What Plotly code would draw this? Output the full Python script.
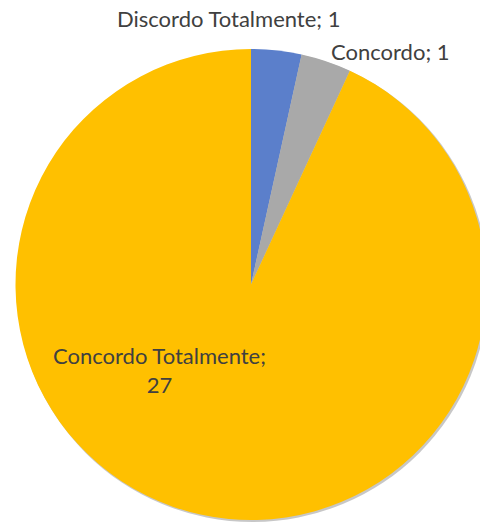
import plotly.graph_objects as go

categories = ["Discordo Totalmente", "Concordo", "Concordo Totalmente"]
values = [1, 1, 27]
colors = ["#5B7FCB", "#A9A9A9", "#FFC000"]

W, H = 502, 522


def dom(cx, cy, r):
    return dict(x=[(cx - r) / W, (cx + r) / W], y=[(H - cy - r) / H, (H - cy + r) / H])


fig = go.Figure()
# soft drop shadow (drawn first, beneath the pie)
fig.add_trace(go.Pie(
    labels=["total"], values=[sum(values)], sort=False,
    marker=dict(colors=["rgba(0,0,0,0.22)"], line=dict(width=0)),
    textinfo="none", hoverinfo="skip", showlegend=False,
    domain=dom(252.5, 286, 236),
))
fig.add_trace(go.Pie(
    labels=categories,
    values=values,
    sort=False,
    direction="clockwise",
    rotation=0,
    marker=dict(colors=colors, line=dict(width=0)),
    textinfo="none",
    hoverinfo="label+value",
    showlegend=False,
    domain=dom(251, 284.5, 235.5),
))

font = dict(family="Lato, 'Open Sans', sans-serif", size=22, color="#404040")
label_pos = [(228, 19), (390, 52), (159, 370)]
texts = [
    f"{categories[0]}; {values[0]}",
    f"{categories[1]}; {values[1]}",
    f"{categories[2]};<br>{values[2]}",
]
for (x, y), t in zip(label_pos, texts):
    fig.add_annotation(x=x / W, y=1 - y / H, xref="paper", yref="paper",
                       text=t, showarrow=False, font=font, align="center",
                       xanchor="center", yanchor="middle")

fig.update_layout(width=W, height=H, margin=dict(l=0, r=0, t=0, b=0),
                  paper_bgcolor="white", plot_bgcolor="white")

fig.write_html("out.html", config={"displayModeBar": False},
               post_script="document.body.style.overflow='hidden';document.body.style.margin='0';")
